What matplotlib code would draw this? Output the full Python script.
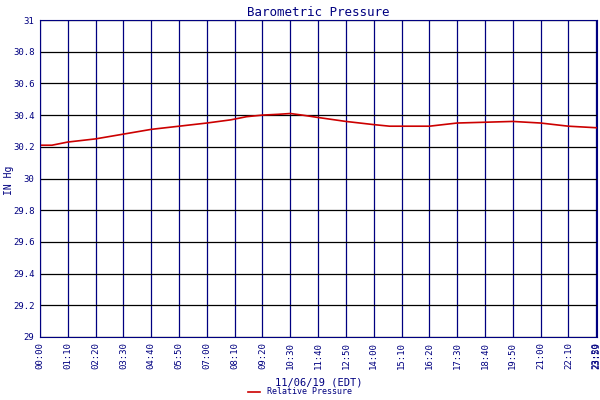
import matplotlib
matplotlib.use('Agg')
import matplotlib.pyplot as plt
import numpy as np

# time in minutes since midnight and pressure (in Hg)
minutes = [0, 30, 70, 140, 210, 280, 350, 420, 480, 520, 560, 600, 630, 660, 700,
           770, 840, 880, 910, 980, 1050, 1120, 1190, 1260, 1330, 1402]
pressure = [30.21, 30.21, 30.23, 30.25, 30.28, 30.31, 30.33, 30.35, 30.37, 30.39, 30.40,
            30.405, 30.41, 30.40, 30.385, 30.36, 30.34, 30.33, 30.33, 30.33, 30.35,
            30.355, 30.36, 30.35, 30.33, 30.32]

xticks = list(range(0, 1401, 70))
xlabels = [f'{t // 60:02d}:{t % 60:02d}' for t in xticks]
yticks = np.round(np.arange(29, 31.01, 0.2), 1)
ylabels = ['29', '29.2', '29.4', '29.6', '29.8', '30', '30.2', '30.4', '30.6', '30.8', '31']

navy = '#000080'
plt.rcParams['font.family'] = 'DejaVu Sans Mono'

fig = plt.figure(figsize=(6, 4), dpi=100)
ax = fig.add_axes([40 / 600, 63 / 400, 557 / 600, 317 / 400])
ax.plot(minutes, pressure, color='#cc0000', lw=1.2, label='Relative Pressure')
ax.set_xlim(0, 1402)
ax.set_ylim(29, 31)
ax.set_xticks(xticks + [1402])
ax.set_xticklabels(xlabels + ['23:59'], rotation=90, fontsize=6.5, color=navy)
ax.set_yticks(yticks)
ax.set_yticklabels(ylabels, fontsize=6.5, color=navy)
ax.tick_params(length=0, pad=4)
for t in xticks:
    ax.axvline(t, color=navy, lw=0.9, zorder=0)
for y in yticks:
    ax.axhline(y, color='black', lw=0.9, zorder=0)
for s in ax.spines.values():
    s.set_color(navy)
ax.set_title('Barometric Pressure', fontsize=9, color=navy, pad=3)
fig.text(9 / 600, 1 - 180 / 400, 'IN Hg', rotation=90, fontsize=7, color=navy,
         ha='center', va='center')
ax.set_xlabel('11/06/19 (EDT)', fontsize=7.5, color=navy, labelpad=6)
fig.legend(loc='lower center', bbox_to_anchor=(0.5, -0.01), frameon=False,
           fontsize=6, labelcolor=navy, handlelength=1.5)
fig.savefig('out.png', dpi=100)
